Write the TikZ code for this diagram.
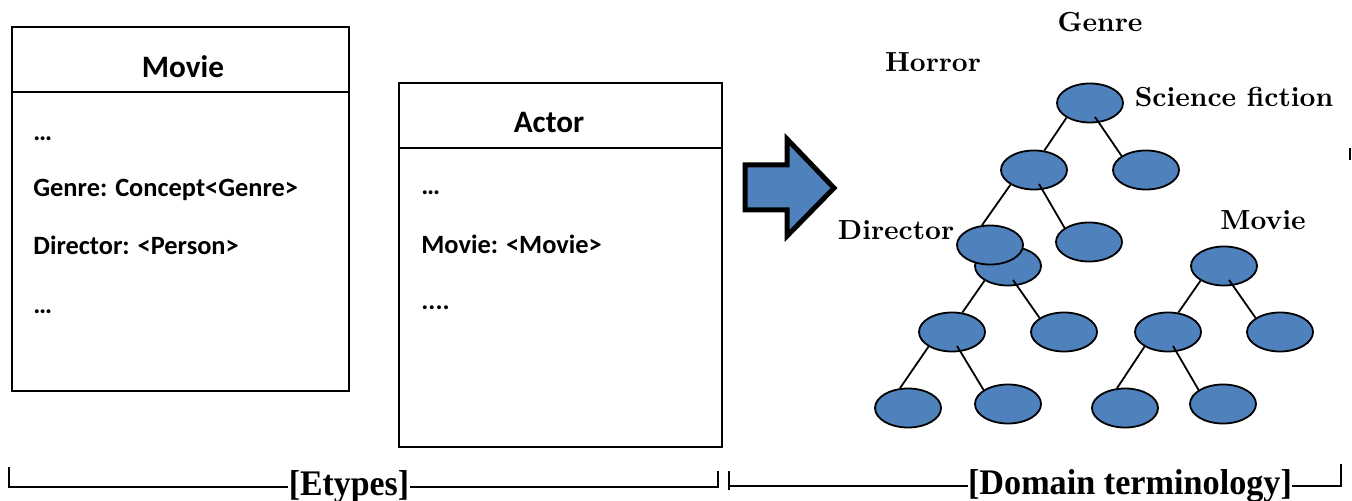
\documentclass[tikz,border=0pt]{standalone}
\usepackage{fontspec}
\usepackage{graphicx}
\usepackage{tikz}
\usetikzlibrary{shapes.geometric,positioning}
\newfontfamily\boxfont{Carlito}
\newfontfamily\labelfont{lmroman10-bold}[Extension=.otf]
\newfontfamily\bracefont{Liberation Serif}
\definecolor{nodeblue}{HTML}{4F81BD}

\begin{document}
\begin{tikzpicture}[x=0.5pt,y=-0.5pt,on grid,
    box/.style={draw,line width=1pt,inner sep=0pt},
    boxtitle/.style={font=\boxfont\bfseries\fontsize{15.6}{18}\selectfont},
    attr/.style={anchor=base west,inner sep=0pt,font=\boxfont\bfseries\fontsize{13.2}{16}\selectfont},
    leaf/.style={ellipse,draw,line width=0.9pt,fill=nodeblue,minimum width=33pt,minimum height=19.5pt,inner sep=0pt},
    term/.style={font=\labelfont\fontsize{13.8}{16}\selectfont,inner sep=0pt},
    bracelabel/.style={font=\bracefont\bfseries\fontsize{18}{20}\selectfont,inner sep=0pt},
    link/.style={line width=0.9pt}]
  \useasboundingbox (0,0) rectangle (1352,501);
  % etypes
  \node[box,minimum width=168.5pt,minimum height=182pt] (movie) at (180.5,209) {};
  \draw[line width=1pt] ([yshift=-33pt]movie.north west) -- ([yshift=-33pt]movie.north east);
  \node[boxtitle] (movietitle) at (183,67) {Movie};
  \node[attr] (ma1) at (33,141) {…};
  \node[attr] (ma2) at (33,197) {Genre: Concept<Genre>};
  \node[attr] (ma3) at (33,255) {Director: <Person>};
  \node[attr] (ma4) at (33,314) {…};

  \node[box,minimum width=161.5pt,minimum height=182pt] (actor) at (560.5,265) {};
  \draw[line width=1pt] ([yshift=-33pt]actor.north west) -- ([yshift=-33pt]actor.north east);
  \node[boxtitle] (actortitle) at (549,123) {Actor};
  \node[attr] (aa1) at (421,195) {…};
  \node[attr] (aa2) at (421,254) {Movie: <Movie>};
  \node[attr] (aa3) at (421,310) {....};

  \draw[fill=nodeblue,line width=2.5pt,line join=miter]
    (745,165) -- (787,165) -- (787,139) -- (834,188) -- (787,236) -- (787,210) -- (745,210) -- cycle;

  % domain terminology
  \node[leaf] (g0) at (1090,103) {};
  \node[leaf,below left=33.5pt and 28pt of g0] (g1) {};
  \node[leaf,below right=33.5pt and 28pt of g0] (g2) {};
  \node[leaf,below left=48pt and 13pt of g1] (g4) {};
  \node[leaf,above left=10.5pt and 9pt of g4] (g3) {};
  \node[leaf,below right=36pt and 27.5pt of g1] (g5) {};
  \node[leaf,below left=33pt and 28pt of g4] (g6) {};
  \node[leaf,below right=33pt and 28pt of g4] (g7) {};
  \node[leaf,below left=38pt and 22pt of g6] (g8) {};
  \node[leaf,below right=36pt and 28pt of g6] (g9) {};
  \node[leaf] (m0) at (1224,266) {};
  \node[leaf,below left=33pt and 28pt of m0] (m1) {};
  \node[leaf,below right=33pt and 28pt of m0] (m2) {};
  \node[leaf,below left=38pt and 21.5pt of m1] (m3) {};
  \node[leaf,below right=36pt and 27.5pt of m1] (m4) {};
  \path[link]
    (g0.212) edge (g1.62)
    ([shift={(5,14)}]g0.center) edge (g2.150)
    (g1.212) edge (g3.112)
    ([shift={(5,14)}]g1.center) edge (g5.150)
    (g4.212) edge (g6.62)
    ([shift={(5,14)}]g4.center) edge (g7.150)
    (g6.212) edge (g8.112)
    ([shift={(5,14)}]g6.center) edge (g9.150)
    (m0.212) edge (m1.62)
    ([shift={(5,14)}]m0.center) edge (m2.150)
    (m1.212) edge (m3.112)
    ([shift={(5,14)}]m1.center) edge (m4.150);

  \node[term] (genre) at (1100,22) {Genre};
  \node[term] (horror) at (933,62) {Horror};
  \node[term] (scifi) at (1234,97) {Science fiction};
  \node[term] (director) at (896,230) {Director};
  \node[term] (movieterm) at (1263,220) {Movie};
  \draw[line width=1pt] (1350,148) -- (1350,160);

  % brackets
  \node[bracelabel] (etypes) at (349,487) {\scalebox{0.94}[1]{[Etypes]}};
  \node[bracelabel] (domain) at (1130,486) {\scalebox{0.95}[1]{[Domain terminology]}};
  \coordinate (e1) at (9,467);
  \coordinate (e2) at (718,471);
  \coordinate (d1) at (729,471);
  \coordinate (d1b) at (729,490);
  \coordinate (d2) at (1341,464);
  \draw[line width=0.75pt] (e1) |- (etypes.west);
  \draw[line width=0.75pt] (e2) |- (etypes.east);
  \draw[line width=0.75pt] (d1) -- (d1b);
  \draw[line width=0.75pt] (d1 |- domain.west) -- (domain.west);
  \draw[line width=0.75pt] (d2) |- (domain.east);
\end{tikzpicture}
\end{document}
